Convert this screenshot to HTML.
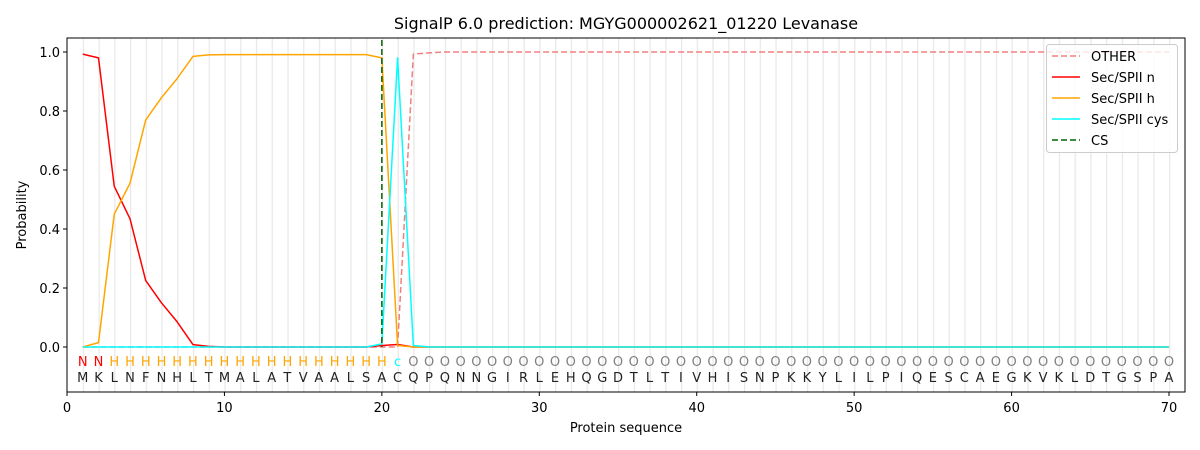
<!DOCTYPE html>
<html><head><meta charset="utf-8"><style>body{margin:0;background:#fff}svg{display:block}text{font-family:"DejaVu Sans","Liberation Sans",sans-serif}</style></head>
<body>
<svg width="1200" height="450" viewBox="0 0 1200 450" xmlns="http://www.w3.org/2000/svg">
<defs><pattern id="g" x="67" y="0" width="15.743" height="450" patternUnits="userSpaceOnUse"><line x1="0.5" y1="0" x2="0.5" y2="450" stroke="#e8e8e8" stroke-width="1.5"/></pattern></defs>
<rect x="76" y="38" width="1100" height="354" fill="url(#g)"/>
<g fill="none" stroke-width="1.5" stroke-linejoin="round">
<polyline stroke="#f08080" stroke-dasharray="6,3" points="82.74,347 381.86,347 397.6,347 413.35,54.1 429.09,52.9 444.83,52 1169,52"/>
<polyline stroke="#ff0000" points="82.74,54.1 98.49,57.9 114.23,186.2 129.97,218.7 145.72,280.6 161.46,302.8 177.2,321.9 192.94,344.6 208.69,346.4 224.43,347 366.12,347 381.86,345.5 397.6,344.5 413.35,347 1169,347"/>
<polyline stroke="#ffa500" points="82.74,347 98.49,342.6 114.23,214.3 129.97,183.3 145.72,119.9 161.46,97.7 177.2,78.5 192.94,56.4 208.69,54.9 224.43,54.6 366.12,54.6 381.86,57.9 397.6,345.5 413.35,347 1169,347"/>
<polyline stroke="#00ffff" points="82.74,347 366.12,347 381.86,344 397.6,57.9 413.35,345.5 429.09,347 1169,347"/>
<line x1="381.86" y1="40" x2="381.86" y2="347" stroke="#006400" stroke-dasharray="6,3"/>
</g>
<rect x="67" y="38" width="1118" height="354" fill="none" stroke="#000" stroke-width="1"/>
<g stroke="#000"><line x1="67" y1="392" x2="67" y2="396"/><line x1="224.43" y1="392" x2="224.43" y2="396"/><line x1="381.86" y1="392" x2="381.86" y2="396"/><line x1="539.29" y1="392" x2="539.29" y2="396"/><line x1="696.72" y1="392" x2="696.72" y2="396"/><line x1="854.15" y1="392" x2="854.15" y2="396"/><line x1="1011.58" y1="392" x2="1011.58" y2="396"/><line x1="1169.01" y1="392" x2="1169.01" y2="396"/>
<line x1="63" y1="347" x2="67" y2="347"/><line x1="63" y1="288" x2="67" y2="288"/><line x1="63" y1="229" x2="67" y2="229"/><line x1="63" y1="170" x2="67" y2="170"/><line x1="63" y1="111" x2="67" y2="111"/><line x1="63" y1="52" x2="67" y2="52"/></g>
<g font-size="13" text-anchor="middle" fill="#000">
<text x="67" y="412">0</text><text x="224.43" y="412">10</text><text x="381.86" y="412">20</text><text x="539.29" y="412">30</text><text x="696.72" y="412">40</text><text x="854.15" y="412">50</text><text x="1011.58" y="412">60</text><text x="1169.01" y="412">70</text>
<text x="626" y="432">Protein sequence</text>
<text x="626" y="29" font-size="16">SignalP 6.0 prediction: MGYG000002621_01220 Levanase</text>
<text transform="translate(26,215) rotate(-90)">Probability</text>
</g>
<g font-size="13" text-anchor="end"><text x="60" y="352">0.0</text><text x="60" y="293">0.2</text><text x="60" y="234">0.4</text><text x="60" y="175">0.6</text><text x="60" y="116">0.8</text><text x="60" y="57">1.0</text></g>
<g font-size="13" text-anchor="middle">
<text y="366" fill="#ff0000" x="82.74 98.49">NN</text>
<text y="366" fill="#ffa500" x="114.23 129.97 145.72 161.46 177.2 192.94 208.69 224.43 240.17 255.92 271.66 287.4 303.15 318.89 334.63 350.37 366.12 381.86">HHHHHHHHHHHHHHHHHH</text>
<text y="366" fill="#00ffff" x="397.6">c</text>
<text y="366" fill="#808080" x="413.35 429.09 444.83 460.58 476.32 492.06 507.8 523.55 539.29 555.03 570.78 586.52 602.26 618.01 633.75 649.49 665.23 680.98 696.72 712.46 728.21 743.95 759.69 775.44 791.18 806.92 822.66 838.41 854.15 869.89 885.64 901.38 917.12 932.87 948.61 964.35 980.09 995.84 1011.58 1027.32 1043.07 1058.81 1074.55 1090.3 1106.04 1121.78 1137.52 1153.27 1169.01">OOOOOOOOOOOOOOOOOOOOOOOOOOOOOOOOOOOOOOOOOOOOOOOOO</text>
<text y="382" fill="#222" x="82.74 98.49 114.23 129.97 145.72 161.46 177.2 192.94 208.69 224.43 240.17 255.92 271.66 287.4 303.15 318.89 334.63 350.37 366.12 381.86 397.6 413.35 429.09 444.83 460.58 476.32 492.06 507.8 523.55 539.29 555.03 570.78 586.52 602.26 618.01 633.75 649.49 665.23 680.98 696.72 712.46 728.21 743.95 759.69 775.44 791.18 806.92 822.66 838.41 854.15 869.89 885.64 901.38 917.12 932.87 948.61 964.35 980.09 995.84 1011.58 1027.32 1043.07 1058.81 1074.55 1090.3 1106.04 1121.78 1137.52 1153.27 1169.01">MKLNFNHLTMALATVAALSACQPQNNGIRLEHQGDTLTIVHISNPKKYLILPIQESCAEGKVKLDTGSPA</text>
</g>
<rect x="1046.5" y="44.5" width="131" height="108" rx="3" fill="#fff" fill-opacity="0.8" stroke="#ccc"/>
<g stroke-width="1.5">
<line x1="1052" y1="56" x2="1080" y2="56" stroke="#f08080" stroke-dasharray="6,3"/>
<line x1="1052" y1="77" x2="1080" y2="77" stroke="#ff0000"/>
<line x1="1052" y1="98" x2="1080" y2="98" stroke="#ffa500"/>
<line x1="1052" y1="119" x2="1080" y2="119" stroke="#00ffff"/>
<line x1="1052" y1="140" x2="1080" y2="140" stroke="#006400" stroke-dasharray="6,3"/>
</g>
<g font-size="13"><text x="1091" y="61">OTHER</text><text x="1091" y="82">Sec/SPII n</text><text x="1091" y="103">Sec/SPII h</text><text x="1091" y="124">Sec/SPII cys</text><text x="1091" y="145">CS</text></g>
</svg>
</body></html>
